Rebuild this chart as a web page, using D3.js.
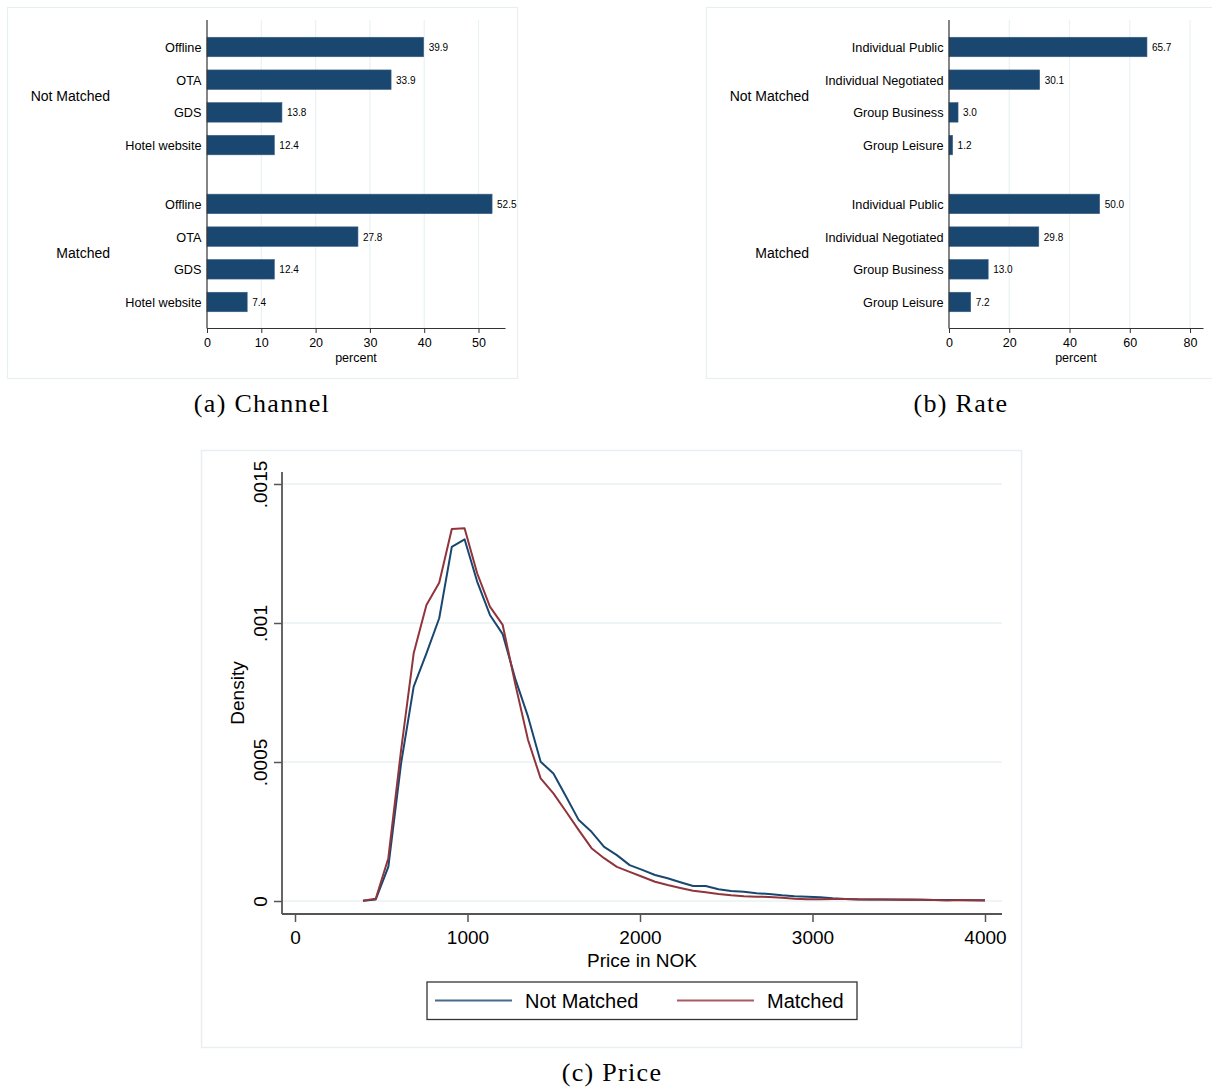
<!DOCTYPE html>
<html>
<head>
<meta charset="utf-8">
<script src="https://cdn.jsdelivr.net/npm/d3@7"></script>
<style>
  html, body { margin: 0; padding: 0; background: #ffffff; }
  svg { display: block; }
  text { font-family: Arial, "Liberation Sans", sans-serif; fill: #000; }
  .cap { font-family: "Liberation Serif", "Times New Roman", serif; }
</style>
</head>
<body>
<script>
// ---------------- DATA ----------------
const groups = ["Not Matched", "Matched"];

const channelCategories = ["Offline", "OTA", "GDS", "Hotel website"];
const channelNotMatched = [39.9, 33.9, 13.8, 12.4];
const channelMatched = [52.5, 27.8, 12.4, 7.4];
const channelTicks = [0, 10, 20, 30, 40, 50];

const rateCategories = ["Individual Public", "Individual Negotiated", "Group Business", "Group Leisure"];
const rateNotMatched = [65.7, 30.1, 3.0, 1.2];
const rateMatched = [50.0, 29.8, 13.0, 7.2];
const rateTicks = [0, 20, 40, 60, 80];

const priceGrid = [394, 468, 541, 615, 688, 762, 836, 909, 983, 1056, 1130, 1204, 1277, 1351, 1424, 1498, 1572, 1645, 1719, 1792,
  1866, 1940, 2013, 2087, 2160, 2234, 2308, 2381, 2455, 2528, 2602, 2676, 2749, 2823, 2896, 2970, 3044, 3117, 3191, 3264,
  3338, 3412, 3485, 3559, 3632, 3706, 3780, 3853, 3927, 4000];
const densityNotMatched = [0.000001, 0.0000054, 0.000123, 0.000495, 0.000771, 0.000891, 0.001017, 0.001274, 0.001301, 0.001149,
  0.001029, 0.00096, 0.000799, 0.000663, 0.000501, 0.000459, 0.000375, 0.000291, 0.000249, 0.000195,
  0.000165, 0.000129, 0.000112, 0.0000935, 0.0000817, 0.0000673, 0.000054, 0.000054, 0.0000421, 0.000036,
  0.0000335, 0.0000277, 0.0000252, 0.0000205, 0.0000169, 0.0000155, 0.0000133, 0.0000097, 0.0000072, 0.000006,
  0.0000058, 0.0000054, 0.000005, 0.0000047, 0.0000043, 0.000004, 0.0000036, 0.0000032, 0.000003, 0.0000025];
const densityMatched = [0.000001, 0.0000083, 0.000154, 0.000543, 0.000891, 0.001065, 0.001145, 0.001338, 0.001341, 0.001179,
  0.001059, 0.000993, 0.00078, 0.000579, 0.000441, 0.000387, 0.000321, 0.000255, 0.00019, 0.000154,
  0.000123, 0.000105, 0.0000874, 0.0000694, 0.0000576, 0.0000468, 0.000037, 0.0000313, 0.0000252, 0.0000205,
  0.0000169, 0.0000155, 0.0000144, 0.0000119, 0.0000083, 0.0000061, 0.0000061, 0.0000072, 0.0000072, 0.0000058,
  0.000005, 0.0000054, 0.0000046, 0.000005, 0.0000043, 0.0000036, 0.0000022, 0.0000036, 0.000003, 0.0000022];
const densityTicks = [0, 0.0005, 0.001, 0.0015];
const densityTickLabels = ["0", ".0005", ".001", ".0015"];
const priceTicks = [0, 1000, 2000, 3000, 4000];
const seriesNames = ["Not Matched", "Matched"];

// ---------------- STYLE ----------------
const NAVY = "#1a476f";
const MAROON = "#90353b";
const GRID = "#eaf2f3";
const AXIS = "#555555";
const BORDER = "#e9eff1";

const svg = d3.select("body").append("svg").attr("width", 1212).attr("height", 1088);

// ---------------- BAR PANELS ----------------
function barPanel(opt) {
  const g = svg.append("g");
  g.append("rect").attr("x", opt.box[0]).attr("y", opt.box[1])
    .attr("width", opt.box[2]).attr("height", opt.box[3])
    .attr("fill", "#fff").attr("stroke", BORDER).attr("stroke-width", 1.2);

  const x = d3.scaleLinear().domain([0, opt.xmax]).range([opt.left, opt.right]);
  const slot = d3.scaleLinear().domain([0, 7.8]).range([47, 302]);
  const rows = [];
  [opt.nm, opt.m].forEach((vals, gi) => {
    vals.forEach((v, ri) => rows.push({ g: gi, r: ri, cat: opt.cats[ri], v: v, s: gi * 4.8 + ri }));
  });

  // grid
  g.selectAll(".grid").data(opt.ticks.filter(t => t > 0)).enter().append("line")
    .attr("x1", d => x(d)).attr("x2", d => x(d)).attr("y1", 20).attr("y2", 328)
    .attr("stroke", GRID).attr("stroke-width", 1.2);

  const bh = 19.5;
  g.selectAll(".bar").data(rows).enter().append("rect")
    .attr("x", x(0)).attr("y", d => slot(d.s) - bh / 2)
    .attr("width", d => x(d.v) - x(0)).attr("height", bh)
    .attr("fill", NAVY).attr("stroke", "#3a5f84").attr("stroke-width", 0.6);

  g.selectAll(".val").data(rows).enter().append("text")
    .attr("x", d => x(d.v) + 5).attr("y", d => slot(d.s) + 0.5).attr("dy", "0.35em")
    .style("font-size", "10px").attr("fill", "#222")
    .text(d => d.v.toFixed(1));

  g.selectAll(".cat").data(rows).enter().append("text")
    .attr("x", opt.left - 5.5).attr("y", d => slot(d.s) + 0.5).attr("dy", "0.35em")
    .attr("text-anchor", "end").style("font-size", "12.7px")
    .text(d => d.cat);

  groups.forEach((name, gi) => {
    g.append("text").attr("x", opt.groupX).attr("y", (slot(gi * 4.8 + 1) + slot(gi * 4.8 + 2)) / 2 + 0.5)
      .attr("dy", "0.35em").attr("text-anchor", "end").style("font-size", "14px").text(name);
  });

  // axes
  g.append("line").attr("x1", opt.left).attr("x2", opt.left).attr("y1", 20).attr("y2", 328.5)
    .attr("stroke", "#333").attr("stroke-width", 1.2);
  const ax = d3.axisBottom(x).tickValues(opt.ticks).tickSize(5).tickSizeOuter(0).tickFormat(d3.format("d"));
  const axg = g.append("g").attr("transform", "translate(0,328)").call(ax);
  axg.select(".domain").attr("stroke", "#333").attr("stroke-width", 1.2);
  axg.selectAll(".tick line").attr("stroke", "#333");
  axg.selectAll(".tick text").style("font-size", "12.5px").style("font-family", "Arial, 'Liberation Sans', sans-serif")
    .attr("fill", "#000").attr("y", 10);
  g.append("text").attr("x", (opt.left + opt.right) / 2).attr("y", 361.5)
    .attr("text-anchor", "middle").style("font-size", "12.5px").text("percent");

  svg.append("text").attr("class", "cap").attr("x", opt.capX).attr("y", 412)
    .attr("text-anchor", "middle").style("font-size", "26px").style("letter-spacing", "1.3px").text(opt.caption);
}

barPanel({
  box: [7.5, 7.5, 510, 371], left: 207, right: 505, xmax: 54.88,
  cats: channelCategories, nm: channelNotMatched, m: channelMatched, ticks: channelTicks,
  groupX: 110, capX: 262, caption: "(a) Channel"
});
barPanel({
  box: [706.5, 7.5, 510, 371], left: 949, right: 1203, xmax: 84.3,
  cats: rateCategories, nm: rateNotMatched, m: rateMatched, ticks: rateTicks,
  groupX: 809, capX: 961, caption: "(b) Rate"
});

// ---------------- DENSITY PANEL ----------------
(function () {
  const g = svg.append("g");
  g.append("rect").attr("x", 201.5).attr("y", 450.5).attr("width", 820).attr("height", 597)
    .attr("fill", "#fff").attr("stroke", BORDER).attr("stroke-width", 1.5);

  const x = d3.scaleLinear().domain([0, 4000]).range([295, 985]);
  const y = d3.scaleLinear().domain([0, 0.0015]).range([901, 484]);
  const L = 282, R = 1002, T = 472, B = 914;

  g.selectAll(".hg").data(densityTicks).enter().append("line")
    .attr("x1", L).attr("x2", R).attr("y1", d => y(d)).attr("y2", d => y(d))
    .attr("stroke", GRID).attr("stroke-width", 1.5);

  const line = d3.line().x((d, i) => x(priceGrid[i])).y(d => y(d));
  g.append("path").datum(densityNotMatched).attr("d", line)
    .attr("fill", "none").attr("stroke", NAVY).attr("stroke-width", 2).attr("stroke-linejoin", "round");
  g.append("path").datum(densityMatched).attr("d", line)
    .attr("fill", "none").attr("stroke", MAROON).attr("stroke-width", 2).attr("stroke-linejoin", "round");

  // y axis
  g.append("line").attr("x1", L).attr("x2", L).attr("y1", T).attr("y2", B)
    .attr("stroke", AXIS).attr("stroke-width", 1.8);
  const yax = d3.axisLeft(y).tickValues(densityTicks).tickSize(8).tickSizeOuter(0).tickFormat((d, i) => densityTickLabels[i]);
  const yg = g.append("g").attr("transform", `translate(${L},0)`).call(yax);
  yg.select(".domain").remove();
  yg.selectAll(".tick line").attr("stroke", AXIS).attr("stroke-width", 1.5);
  yg.selectAll(".tick text").attr("x", null).attr("dy", null)
    .attr("transform", "translate(-15,0) rotate(-90)")
    .attr("text-anchor", "middle").attr("y", 0)
    .style("font-size", "19px").style("font-family", "Arial, 'Liberation Sans', sans-serif").attr("fill", "#000");

  // x axis
  const xax = d3.axisBottom(x).tickValues(priceTicks).tickSize(8).tickSizeOuter(0).tickFormat(d3.format("d"));
  const xg = g.append("g").attr("transform", `translate(0,${B})`).call(xax);
  xg.select(".domain").remove();
  g.append("line").attr("x1", L).attr("x2", R).attr("y1", B).attr("y2", B).attr("stroke", AXIS).attr("stroke-width", 1.8);
  xg.selectAll(".tick line").attr("stroke", AXIS).attr("stroke-width", 1.5);
  xg.selectAll(".tick text").attr("y", 17).attr("dy", "0.71em")
    .style("font-size", "19px").style("font-family", "Arial, 'Liberation Sans', sans-serif").attr("fill", "#000");

  g.append("text").attr("x", (L + R) / 2).attr("y", 967).attr("text-anchor", "middle")
    .style("font-size", "19px").text("Price in NOK");
  g.append("text").attr("transform", `translate(244,${(T + B) / 2}) rotate(-90)`).attr("text-anchor", "middle")
    .style("font-size", "19px").text("Density");

  // legend
  const lg = g.append("g");
  lg.append("rect").attr("x", 427).attr("y", 982).attr("width", 430).attr("height", 37.5)
    .attr("fill", "#fff").attr("stroke", "#333").attr("stroke-width", 1.3);
  const items = [{ name: seriesNames[0], c: NAVY, x0: 435 }, { name: seriesNames[1], c: MAROON, x0: 677 }];
  items.forEach(it => {
    lg.append("line").attr("x1", it.x0).attr("x2", it.x0 + 77).attr("y1", 1000.5).attr("y2", 1000.5)
      .attr("stroke", it.c).attr("stroke-width", 2).attr("opacity", 0.8);
    lg.append("text").attr("x", it.x0 + 90).attr("y", 1000.5).attr("dy", "0.35em")
      .style("font-size", "20px").text(it.name);
  });

  svg.append("text").attr("class", "cap").attr("x", 612).attr("y", 1081)
    .attr("text-anchor", "middle").style("font-size", "26px").style("letter-spacing", "1.3px").text("(c) Price");
})();
</script>
</body>
</html>
